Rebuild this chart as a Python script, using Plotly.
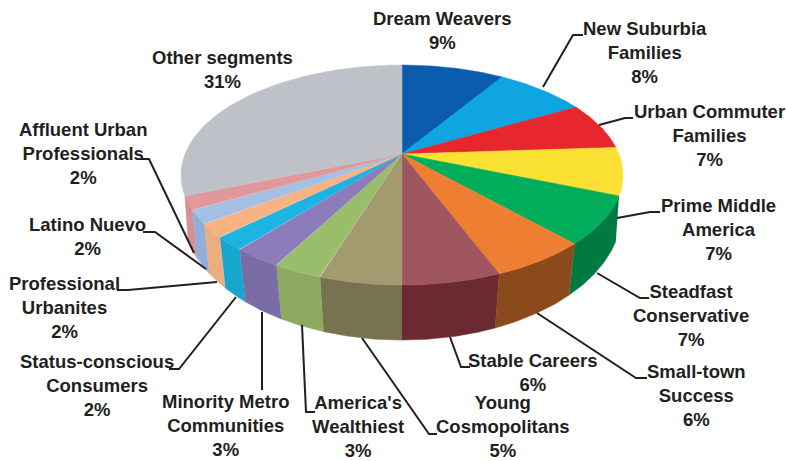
import numpy as np
import plotly.graph_objects as go

segments = ["Dream Weavers", "New Suburbia<br>Families", "Urban Commuter<br>Families",
            "Prime Middle<br>America", "Steadfast<br>Conservative", "Small-town<br>Success",
            "Stable Careers", "Young<br>Cosmopolitans", "America's<br>Wealthiest",
            "Minority Metro<br>Communities", "Status-conscious<br>Consumers",
            "Professional<br>Urbanites", "Latino Nuevo", "Affluent Urban<br>Professionals",
            "Other segments"]
shares = [9, 8, 7, 7, 7, 6, 6, 5, 3, 3, 2, 2, 2, 2, 31]
top_colors = ["#0B5CAD", "#0FA5E3", "#E8262D", "#FBE133", "#00AD5A", "#EE7E32", "#A0565E", "#A49A6F",
              "#98BE6C", "#8D7CBC", "#1DB3E3", "#F8B383", "#A3BFE3", "#E0989A", "#BEC1C7"]
wall_colors = ["#0B5CAD", "#0FA5E3", "#E8262D", "#FBE133", "#007A40", "#8A4A1B", "#6B2A31", "#77724F",
               "#8CA95F", "#7A6CA5", "#17A6CE", "#EBAE80", "#8FAFD8", "#D68F92", "#BEC1C7"]

# label layout: centre x, y of the block's centre
label_pos = [(442, 30), (645, 52), (709, 135), (718, 229), (691, 315), (696, 395), (533, 372),
             (503, 426), (358, 426), (225, 425), (97, 385), (64, 307), (87, 236), (83, 153), (222, 69)]
# leader layout, label end -> elbow -> pie end
leaders = [None,
           [(583, 35), (573, 35), (543, 87)],
           [(633, 118), (625, 118), (599, 125)],
           [(660, 212), (650, 212), (617, 218)],
           [(649, 298), (640, 298), (597, 273)],
           [(647, 378), (636, 378), (537, 313)],
           [(470, 367), (461, 367), (450, 337)],
           [(437, 434), (429, 434), (362, 338)],
           [(315, 412), (306, 412), (302, 325)],
           [(262, 390), (262, 312)],
           [(169, 369), (179, 369), (236, 297)],
           [(117, 290), (128, 290), (217, 282)],
           [(143, 232), (155, 232), (206, 269)],
           [(140, 159), (149, 159), (194, 253)],
           None]

INK = "#231F20"
CX = 402
TOP = dict(y0=154, a=106, c=217, k=0.191)
BOTTOM = dict(y0=192.5, a=125, c=217, k=0.153)
WALL_FROM, WALL_TO = 31, 69


def rim(pcts, g):
    th = np.radians(np.asarray(pcts, float) * 3.6)
    u, v = np.sin(th), np.cos(th)
    d = 1 + g["k"] * v
    return CX + g["c"] * u / d, g["y0"] - g["a"] * v / d


fig = go.Figure()
edges = np.concatenate([[0], np.cumsum(shares)])

# side walls of the front part of the pie
for i in range(len(shares)):
    lo, hi = max(edges[i], WALL_FROM), min(edges[i + 1], WALL_TO)
    if hi <= lo:
        continue
    p = np.linspace(lo, hi, 40)
    xt, yt = rim(p, TOP)
    xb, yb = rim(p[::-1], BOTTOM)
    fig.add_trace(go.Scatter(x=np.r_[xt, xb], y=np.r_[yt, yb], mode="lines", fill="toself",
                             fillcolor=wall_colors[i], line=dict(color=wall_colors[i], width=0.5),
                             hoverinfo="skip", showlegend=False))

# top face
for i in range(len(shares)):
    p = np.linspace(edges[i], edges[i + 1], 60)
    xt, yt = rim(p, TOP)
    fig.add_trace(go.Scatter(x=np.r_[CX, xt, CX], y=np.r_[TOP["y0"], yt, TOP["y0"]], mode="lines",
                             fill="toself", fillcolor=top_colors[i],
                             line=dict(color=top_colors[i], width=0.5), name=segments[i].replace("<br>", " "),
                             hoverinfo="name", showlegend=False))

# leader lines
for pts in leaders:
    if pts:
        fig.add_trace(go.Scatter(x=[q[0] for q in pts], y=[q[1] for q in pts], mode="lines",
                                 line=dict(color=INK, width=2), hoverinfo="skip", showlegend=False))

# labels
for name, val, (lx, ly) in zip(segments, shares, label_pos):
    fig.add_annotation(x=lx, y=ly, xref="x", yref="y", text=f"{name}<br>{val}%", showarrow=False,
                       xanchor="center", yanchor="middle", align="center",
                       font=dict(family="Liberation Sans", size=18.5, color=INK, weight="bold"))

fig.update_xaxes(range=[0, 786], visible=False, fixedrange=True)
fig.update_yaxes(range=[461, 0], visible=False, fixedrange=True)
fig.update_layout(width=786, height=461, margin=dict(l=0, r=0, t=0, b=0),
                  paper_bgcolor="white", plot_bgcolor="white", showlegend=False)
fig.write_html("out.html", config={"displayModeBar": False},
               post_script="document.body.style.margin='0';document.documentElement.style.overflow='hidden';")
